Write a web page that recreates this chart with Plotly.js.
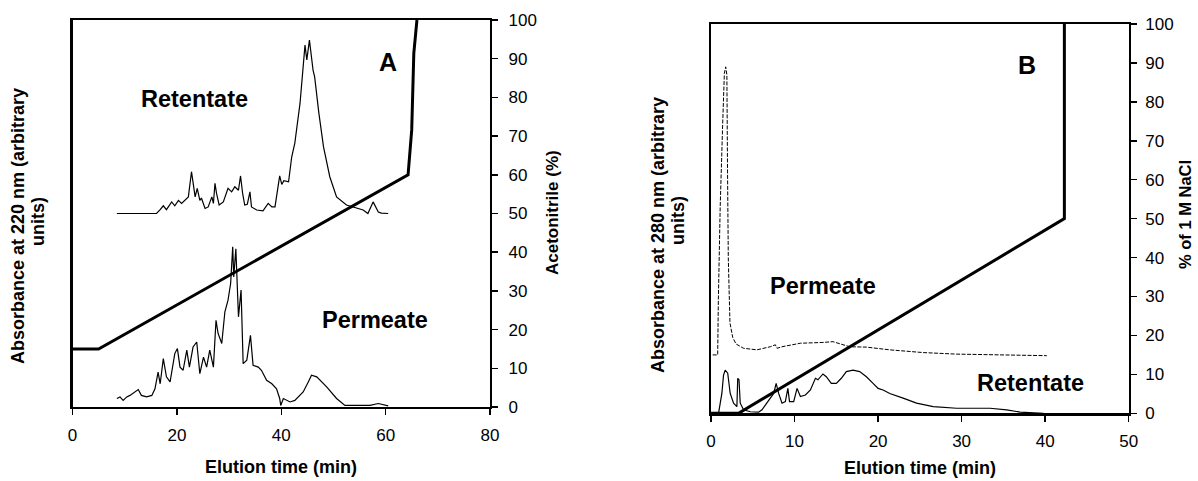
<!DOCTYPE html>
<html>
<head>
<meta charset="utf-8">
<script src="https://cdn.plot.ly/plotly-3.0.1.min.js"></script>
<style>html,body{margin:0;padding:0;background:#fff;}#chart{width:1198px;height:481px;}</style>
</head>
<body>
<div id="chart"></div>
<script>
// ---- Panel A (RP-HPLC, 220 nm) ----
const aRetentateTime = [8.5,16.1,16.8,17.4,18,19,19.6,20.3,20.9,21.5,22.2,22.8,23.2,23.5,23.9,24.4,24.7,25.4,26,26.7,27,27.3,27.6,28.1,28.9,29.8,30.5,31.1,31.8,32.2,32.6,33,33.5,34,34.3,35.3,36.5,37.5,38.2,38.8,39.7,40.1,40.5,41.4,42,42.6,43.6,44.2,44.55,44.9,45.4,46.1,46.4,47.2,48.1,49.3,50.6,52.5,54.5,55.7,56.6,57.6,58.6,59.2,60.5];
const aRetentateSignal = [50,50,51,52,51,53,52,53.4,52.6,53.4,54.3,60.8,56.9,54.3,56.5,53.4,54,51.3,51.7,54.3,52.6,57.8,55.2,52.2,53,56.5,55.6,56.9,56,59.7,55.2,52.2,52.4,55.6,51.7,50.9,50.7,52.6,51.7,51.7,59.7,57.5,58.5,58.2,64.6,68.2,78.5,88.8,93.5,89.7,94.8,87,85.3,76,67.2,59.5,54.3,52.2,51.3,50.9,50,53,50.4,50.1,50];
const aPermeateTime = [8.5,9.1,9.7,10.4,11,12,12.6,13.2,14.2,15.2,15.8,16.4,16.8,17.4,18,18.7,19.6,20.1,20.6,21.2,21.9,22.4,23.1,23.8,24.4,25.1,25.7,26.3,27,27.5,27.9,28.6,29.2,29.8,30.3,30.7,30.9,31.3,31.8,32.3,32.7,33.4,34.1,34.6,35.6,36.2,37.2,38.2,39.1,39.7,39.9,40.4,41.7,42.6,44.2,45.2,45.8,46.8,48.7,50.6,52.2,55,57,58.6,59.9,60.5];
const aPermeateSignal = [2.2,2.6,1.7,2.6,3,3.9,4.5,3,2.6,3,4.7,9,6,12.5,7.8,6.5,13.8,15.1,10.3,9.5,14.7,10.3,15.5,16.8,8.6,12.9,10.3,14.7,10.3,22.4,19,16.4,24.6,27.6,31.9,41.4,33.6,40.9,23.3,30.2,11.2,12.1,18.5,10.8,10.3,9.5,6.9,6,4.7,2.2,0.4,2.2,1.3,1.7,3.9,6.5,8.2,7.8,5.2,2.2,0.4,0.4,0.4,0.9,0.4,0.3];
const aGradientTime = [0,5,64.3,65,65.4,66];
const aAcetonitrile = [15,15,60,71.6,91.4,100];

// ---- Panel B (ion exchange, 280 nm) ----
const bPermeateTime = [0.2,0.8,0.88,1.1,1.4,1.6,1.76,1.9,1.98,2.07,2.27,2.6,3.0,3.9,5.5,7.1,7.7,7.9,8.5,10.7,13.4,14.6,16.6,18.6,21.4,25.4,29.4,37.4,40.2];
const bPermeateSignal = [15,15,29,53,74.5,87.3,89,87,62,40,23.2,19.5,17.8,16.7,16.3,17.1,17.6,16.7,17.1,18,18.2,18.4,17.1,17,16.3,15.6,15.2,15,14.8];
const bRetentateTime = [0.9,1.3,1.5,1.7,2.0,2.3,2.7,3.1,3.2,3.35,3.5,3.9,4.7,5.7,6.1,6.9,7.5,7.8,8.1,8.5,8.9,9.2,9.4,9.9,10.3,10.7,11.3,11.9,12.5,12.8,13.4,13.8,14.4,15,15.6,16.2,17,17.8,18.6,19.4,20,20.6,21.4,23,24.6,26.6,29.4,31.4,33.4,35.4,37,39.8];
const bRetentateSignal = [0,5.1,9.8,11.1,10.3,5.1,2.6,1.7,9,8.6,2.6,0.9,0.4,0.3,0.9,3.4,5.1,7.7,5.1,2.6,3,6.4,3,3,6.4,4.3,4.7,6,9,8.6,10.1,9.4,7.7,7.7,9,10.7,11.1,10.7,9.4,7.7,6.4,6,5.1,3.9,2.6,1.7,1.3,1.3,1.3,0.9,0.3,0];
const bGradientTime = [0,3.3,42.3,42.3];
const bNaCl = [0,0,50,100];

const xTicksA = [0,20,40,60,80];
const xTicksB = [0,10,20,30,40,50];
const yTicks = [0,10,20,30,40,50,60,70,80,90,100];

const W = 1198, H = 481;
const FONT = 'Liberation Sans, Arial, sans-serif';
const px = v => v / W;
const py = v => 1 - v / H;

const thin = {color:'#000', width:1.2};
const traces = [
  {x:aRetentateTime, y:aRetentateSignal, xaxis:'x', yaxis:'y', mode:'lines', line:thin, name:'A Retentate'},
  {x:aPermeateTime, y:aPermeateSignal, xaxis:'x', yaxis:'y', mode:'lines', line:thin, name:'A Permeate'},
  {x:aGradientTime, y:aAcetonitrile, xaxis:'x', yaxis:'y', mode:'lines', line:{color:'#000', width:3}, name:'Acetonitrile'},
  {x:bPermeateTime, y:bPermeateSignal, xaxis:'x2', yaxis:'y2', mode:'lines', line:{color:'#000', width:1, dash:'4px,1.5px'}, name:'B Permeate'},
  {x:bRetentateTime, y:bRetentateSignal, xaxis:'x2', yaxis:'y2', mode:'lines', line:thin, name:'B Retentate'},
  {x:bGradientTime, y:bNaCl, xaxis:'x2', yaxis:'y2', mode:'lines', line:{color:'#000', width:3}, name:'NaCl'}
];

function xAxis(domain, range, ticks, anchor){
  return {domain, range, anchor, tickvals:ticks, ticktext:ticks.map(String), showline:true, linewidth:2.2, linecolor:'#000',
    mirror:true, ticks:'outside', ticklen:6, tickwidth:1.5, tickcolor:'#000', showgrid:false, zeroline:false,
    ticklabelstandoff:5,
    tickfont:{family:FONT, size:17, color:'#000'}, fixedrange:true};
}
function yAxis(domain, anchor, standoff){
  return {domain, range:[0,100], anchor, side:'right', tickvals:yTicks, ticktext:yTicks.map(String), showline:true, linewidth:2.2, linecolor:'#000',
    mirror:true, ticks:'outside', ticklen:6, tickwidth:1.5, tickcolor:'#000', showgrid:false, zeroline:false,
    ticklabelstandoff:standoff,
    tickfont:{family:FONT, size:17, color:'#000'}, fixedrange:true};
}

function ann(text, x, y, size, extra){
  return Object.assign({text, x:px(x), y:py(y), xref:'paper', yref:'paper', showarrow:false,
    xanchor:'center', yanchor:'middle', font:{family:FONT, size, color:'#000'}}, extra||{});
}

const layout = {
  width:W, height:H, margin:{l:0,r:0,t:0,b:0}, paper_bgcolor:'#fff', plot_bgcolor:'#fff', showlegend:false,
  xaxis: xAxis([px(72.5), px(490)], [0,80], xTicksA, 'y'),
  yaxis: yAxis([py(407), py(20)], 'x', 7),
  xaxis2: xAxis([px(711), px(1128.7)], [0,50], xTicksB, 'y2'),
  yaxis2: yAxis([py(413.3), py(24)], 'x2', 5),
  annotations: [
    ann('<b>Retentate</b>', 195, 99, 23.5),
    ann('<b>Permeate</b>', 375, 320, 23.5),
    ann('<b>A</b>', 388, 62, 25),
    ann('<b>Elution time (min)</b>', 281, 467, 18),
    ann('<b>Absorbance at 220 nm (arbitrary</b>', 18, 226, 18, {textangle:-90}),
    ann('<b>units)</b>', 38, 222, 18, {textangle:-90}),
    ann('<b>Acetonitrile (%)</b>', 553, 213, 17, {textangle:-90}),
    ann('<b>Permeate</b>', 823, 286, 23.5),
    ann('<b>Retentate</b>', 1030, 383, 23.5),
    ann('<b>B</b>', 1027, 65, 25),
    ann('<b>Elution time (min)</b>', 920, 468, 18),
    ann('<b>Absorbance at 280 nm (arbitrary</b>', 658, 235, 18, {textangle:-90}),
    ann('<b>units)</b>', 678, 221, 18, {textangle:-90}),
    ann('<b>% of 1 M NaCl</b>', 1185, 215, 16.5, {textangle:-90})
  ]
};

Plotly.newPlot('chart', traces, layout, {staticPlot:true, displayModeBar:false});
</script>
</body>
</html>
